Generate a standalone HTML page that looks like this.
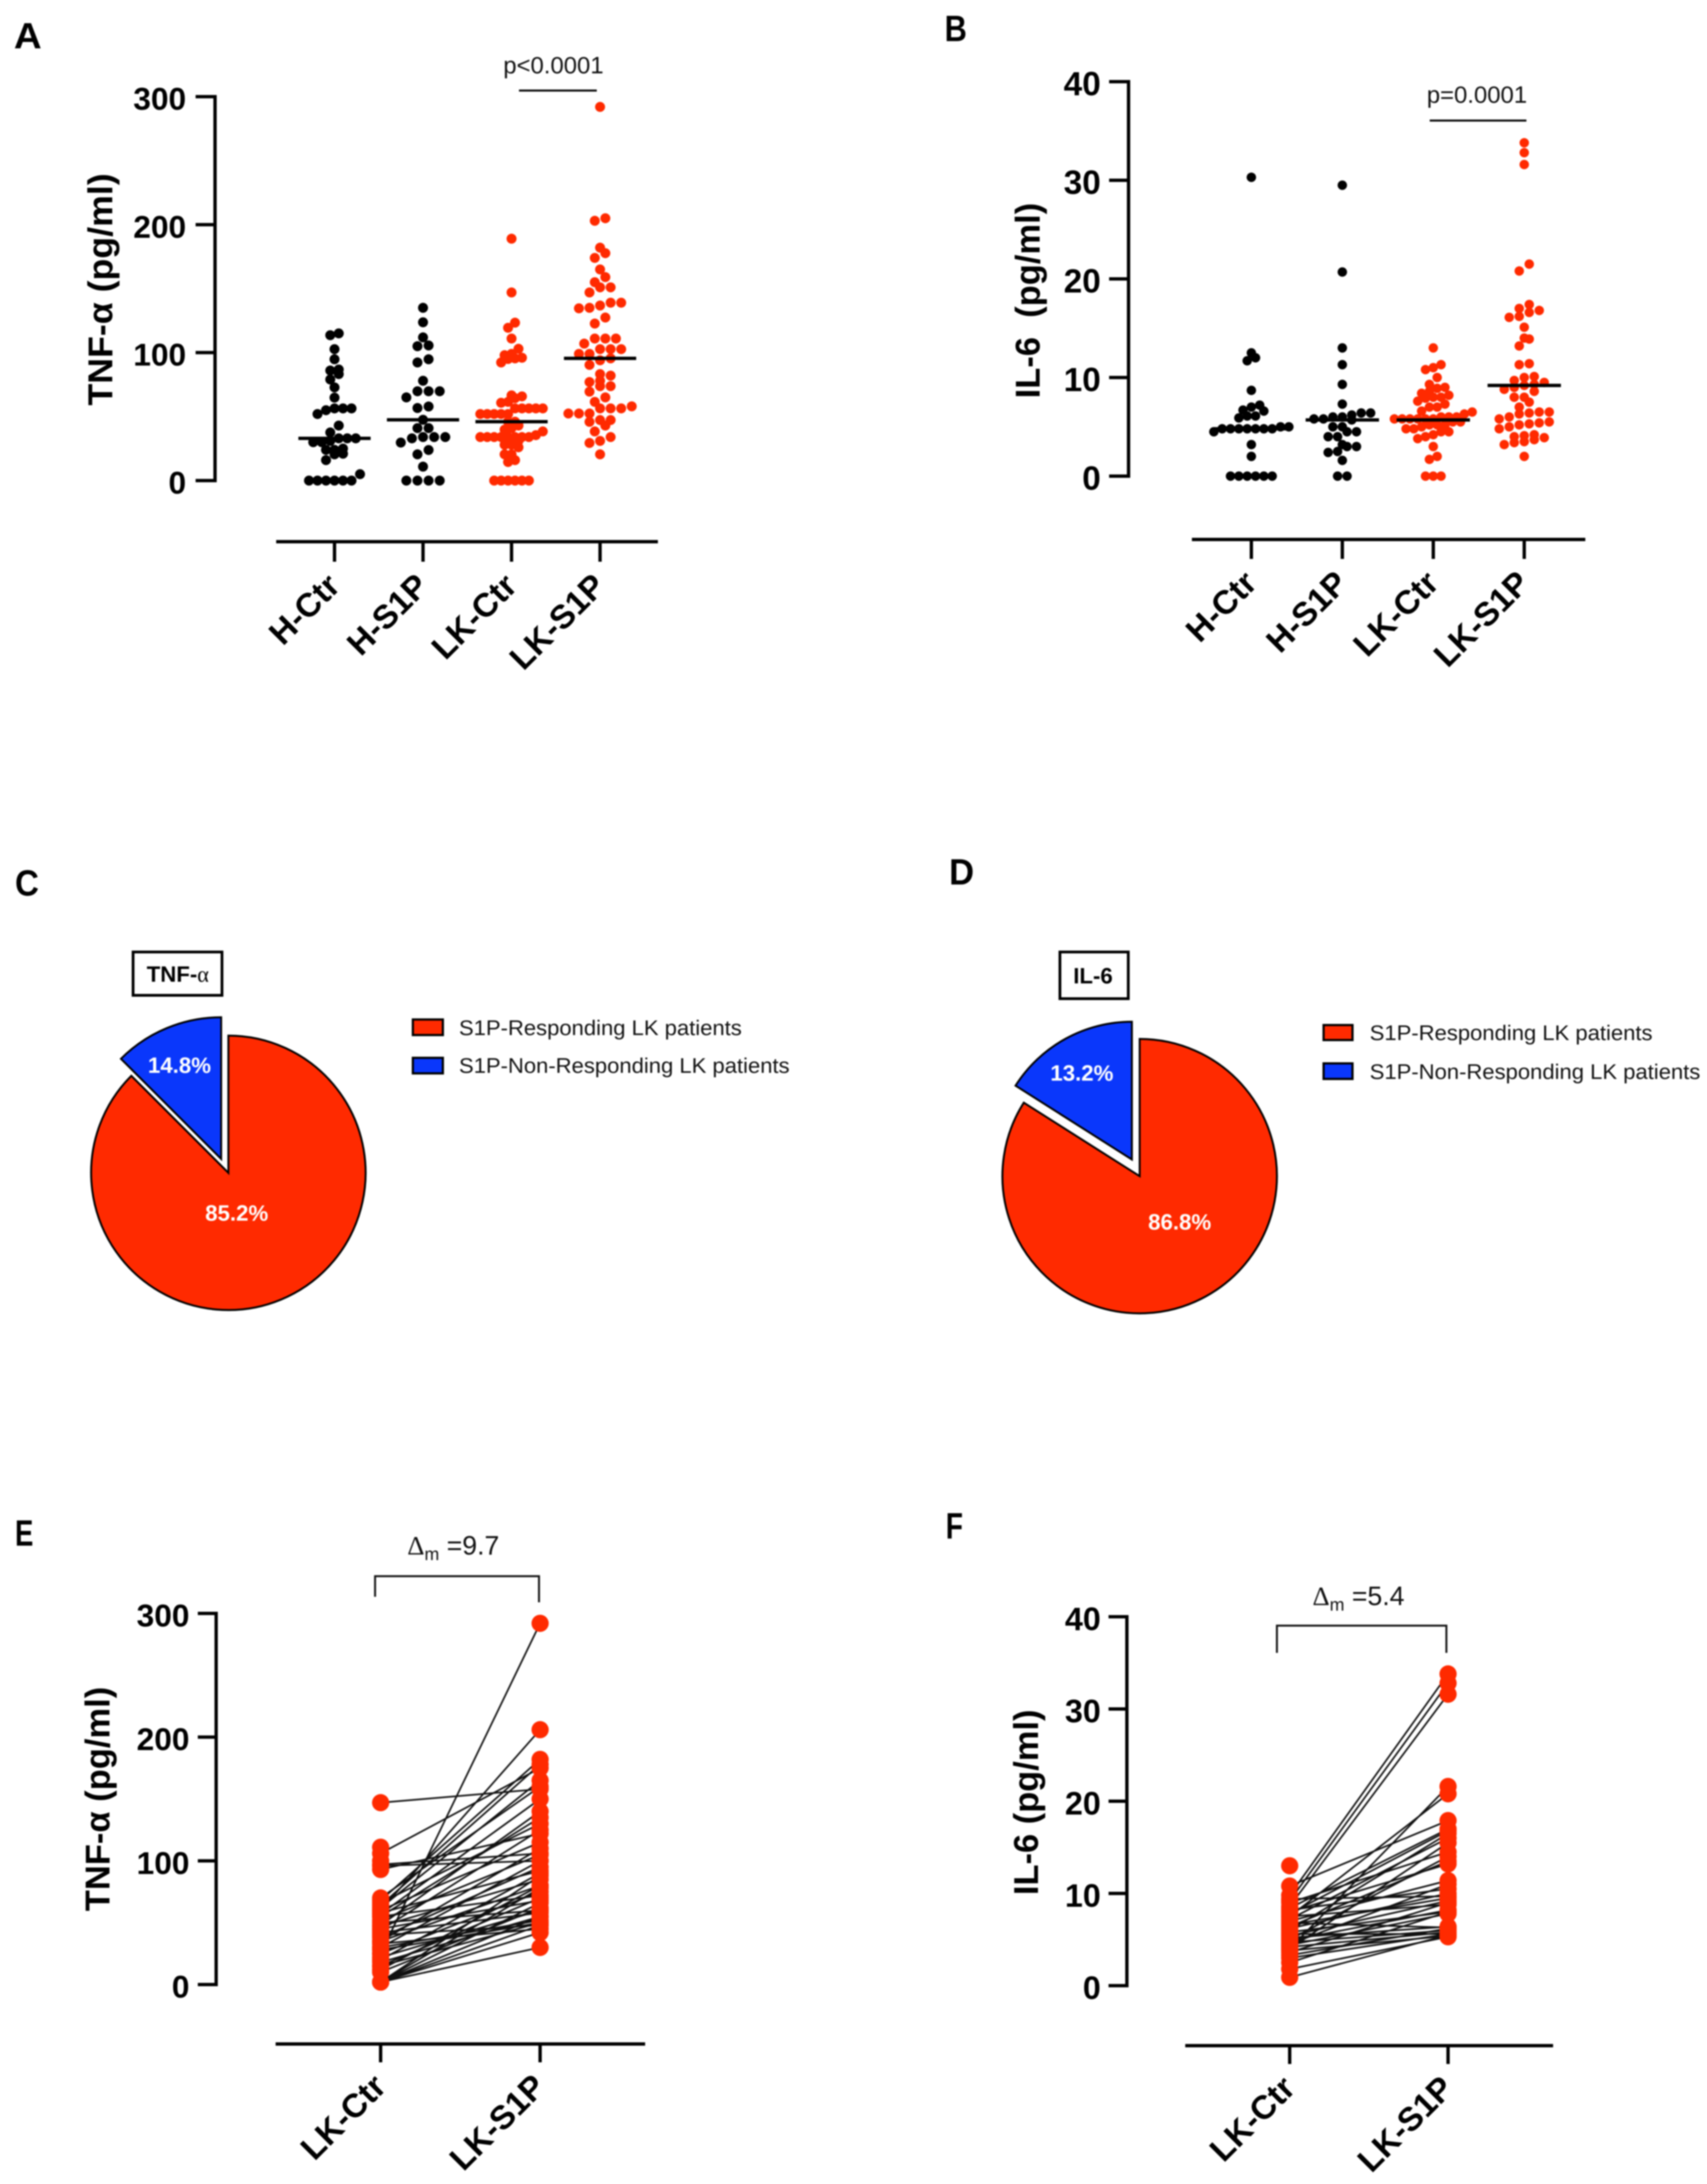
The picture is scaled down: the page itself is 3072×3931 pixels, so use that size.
<!DOCTYPE html>
<html lang="en">
<head>
<meta charset="utf-8">
<title>TNF-α and IL-6 response to S1P</title>
<style>
html,body{margin:0;padding:0;background:#fff;width:3072px;height:3931px;overflow:hidden}
svg{display:block;filter:blur(1.4px)}
text{font-family:"Liberation Sans",sans-serif;fill:#000}
.letter{font-size:66px;font-weight:bold}
.tick{font-size:58px;font-weight:bold;text-anchor:end}
.cat{font-size:60px;font-weight:bold;text-anchor:end}
.title{font-size:62px;font-weight:bold;text-anchor:middle}
.note{font-size:43px;text-anchor:middle;fill:#111}
.delta{font-size:48px;fill:#111}
.leg{font-size:38px;fill:#111}
.pct{font-size:40px;font-weight:bold;text-anchor:middle;fill:#fff}
.box{font-size:40px;font-weight:bold;text-anchor:middle}
</style>
</head>
<body>
<svg id="figure" xmlns="http://www.w3.org/2000/svg" width="3072" height="3931" viewBox="0 0 3072 3931">
<rect width="3072" height="3931" fill="#fff"/>

<text class="letter" x="25" y="87" textLength="50" lengthAdjust="spacingAndGlyphs">A</text>
<text class="letter" x="1700" y="74" textLength="40" lengthAdjust="spacingAndGlyphs">B</text>
<text class="letter" x="27" y="1612" textLength="43" lengthAdjust="spacingAndGlyphs">C</text>
<text class="letter" x="1708" y="1592" textLength="45" lengthAdjust="spacingAndGlyphs">D</text>
<text class="letter" x="27" y="2782" textLength="33" lengthAdjust="spacingAndGlyphs">E</text>
<text class="letter" x="1702" y="2769" textLength="31" lengthAdjust="spacingAndGlyphs">F</text>

<text class="title" transform="translate(202,521) rotate(-90)" textLength="418" lengthAdjust="spacingAndGlyphs">TNF-α (pg/ml)</text>
<text class="title" transform="translate(1871,541) rotate(-90)" textLength="352" lengthAdjust="spacingAndGlyphs" xml:space="preserve">IL-6  (pg/ml)</text>
<text class="title" transform="translate(197,3238) rotate(-90)" textLength="404" lengthAdjust="spacingAndGlyphs">TNF-α (pg/ml)</text>
<text class="title" transform="translate(1868,3244) rotate(-90)" textLength="334" lengthAdjust="spacingAndGlyphs">IL-6 (pg/ml)</text>

<text class="note" x="996" y="132">p&lt;0.0001</text>
<line x1="934" y1="163" x2="1074" y2="163" stroke="#000" stroke-width="3.5"/>
<text class="note" x="2658" y="185">p=0.0001</text>
<line x1="2573" y1="217" x2="2747" y2="217" stroke="#000" stroke-width="3.5"/>

<rect x="239.5" y="1713.5" width="160" height="78" fill="#fff" stroke="#000" stroke-width="5"/>
<text class="box" x="320" y="1767">TNF-<tspan font-family="Liberation Serif" font-weight="normal">α</tspan></text>
<rect x="1907.5" y="1713.5" width="123" height="84" fill="#fff" stroke="#000" stroke-width="5"/>
<text class="box" x="1967" y="1770">IL-6</text>

<rect x="743" y="1835" width="54" height="28" fill="#ff2a00" stroke="#000" stroke-width="4"/>
<text class="leg" x="826" y="1863" textLength="509" lengthAdjust="spacingAndGlyphs">S1P-Responding LK patients</text>
<rect x="743" y="1904" width="54" height="28" fill="#0a37fb" stroke="#000" stroke-width="4"/>
<text class="leg" x="826" y="1931" textLength="595" lengthAdjust="spacingAndGlyphs">S1P-Non-Responding LK patients</text>
<rect x="2382" y="1845" width="52" height="27" fill="#ff2a00" stroke="#000" stroke-width="4"/>
<text class="leg" x="2465" y="1872" textLength="509" lengthAdjust="spacingAndGlyphs">S1P-Responding LK patients</text>
<rect x="2382" y="1914" width="52" height="28" fill="#0a37fb" stroke="#000" stroke-width="4"/>
<text class="leg" x="2465" y="1942" textLength="595" lengthAdjust="spacingAndGlyphs">S1P-Non-Responding LK patients</text>

<path d="M675 2874V2837H970V2884" fill="none" stroke="#111" stroke-width="3.5"/>
<text class="delta" x="733" y="2798"><tspan font-family="Liberation Serif">Δ</tspan><tspan font-size="32" dy="10">m</tspan><tspan dy="-10"> =9.7</tspan></text>
<path d="M2298 2975V2926H2603V2975" fill="none" stroke="#111" stroke-width="3.5"/>
<text class="delta" x="2362" y="2889"><tspan font-family="Liberation Serif">Δ</tspan><tspan font-size="32" dy="10">m</tspan><tspan dy="-10"> =5.4</tspan></text>

<g id="panel-a"></g>
<g id="panel-b"></g>
<g id="panel-c"></g>
<g id="panel-d"></g>
<g id="panel-e"></g>
<g id="panel-f"></g>
</svg>

<script>
const groupCategories = ['H-Ctr', 'H-S1P', 'LK-Ctr', 'LK-S1P'];
const pairCategories = ['LK-Ctr', 'LK-S1P'];
const tnfTicks = [0, 100, 200, 300];
const il6Ticks = [0, 10, 20, 30, 40];

const tnfHCtr = [115,113.6,102.7,94.8,86.8,86,83.2,79,72.8,64.8,56.4,56.4,56.4,55,52,43,37.6,33,33,33,31,30,30,25,24,24,21,20.5,16,5,0,0,0,0,0,0];
const tnfHS1P = [135,123.7,111.9,105.6,105,94.8,92.3,78,69.8,69.8,69.8,65,57.9,56.7,47.5,41,41,34,34,34,33,29.7,23.9,20.5,10.9,0,0,0,0];
const tnfLKCtr = [189,147,123.4,119.4,111,103,99,98,96,95.5,95,92.3,66.6,65.8,64.4,61.5,60.8,56.4,56.4,56.4,56.4,56.4,52,52,52,52,52,46,46,43,41,39.8,38.4,35.5,34,34,34,34,34,34,34,34,31,28,28,26,20.5,20.5,16,14.5,0,0,0,0,0,0];
const tnfLKS1P = [292,205,203,182,177.7,174,165,159,155,151,151,147,139,139,136.8,135,134.6,127.4,122.7,111,111,111,107,102.7,102.7,102.7,99,99,95.5,94,90.4,83.2,82,78,77,73.8,73.8,69.5,65,61.5,58,56.4,56.4,56.4,52.4,52.4,52.4,47.3,47.3,45.9,43,38.4,34,31,29.4,20.5];
const tnfMeans = [33, 47.5, 46, 95.5];

const il6HCtr = [30.3,12.5,12,11.7,8.7,7.2,7,6.7,6.6,6.1,6.1,5.9,5,5,4.8,4.8,4.8,4.8,4.8,4.8,4.8,4.5,3.2,2,0,0,0,0,0,0];
const il6HS1P = [29.5,20.7,13,11.3,9.3,7.3,6.4,6.4,6.2,6,6,5.8,5.8,5.7,5,5,4.5,4.5,4,4,3.2,3,3,2.5,2.4,1.6,0,0];
const il6LKCtr = [13,11.3,11,10.8,10,9.3,9,8.9,8.6,8.4,8.2,8,8,7.9,7.6,7.3,7,7,6.6,6.5,6.3,6,6,6,5.8,5.8,5.8,5.8,5.8,5.8,5.5,5.5,5.2,5.2,5.2,5,4.8,4.8,4.5,4.5,4.2,4,3.8,3,2,1.7,0,0,0];
const il6LKS1P = [33.8,32.8,31.6,21.5,20.8,17.4,17,16.8,16.6,16.2,16.1,15.1,14,13.9,13.2,11.4,11.3,10.1,10,9.7,9.5,9.3,9.2,9,8.8,8.6,8,8,7.5,7,6.5,6.5,6.4,6.3,6,5.8,5.5,5.4,5.3,5.2,5,4.8,4.2,4.1,4,3.9,3.7,3.5,3.4,3.2,2];
const il6Means = [4.8, 5.7, 5.7, 9.2];

// Slice shares follow the angles actually drawn in the source figure; printed labels are separate.
const pieCategories = ['S1P-Responding', 'S1P-Non-Responding'];
const tnfPieShares = [87.5, 12.5];
const tnfPieLabels = ['85.2%', '14.8%'];
const il6PieShares = [84, 16];
const il6PieLabels = ['86.8%', '13.2%'];

const tnfPairCtr = [147,106,97,96,93,25,60,2,2,2,2,2,2,2,10,12,15,15,18,20,22,25,28,30,30,33,35,35,38,40,42,44,45,47,48,50,52,55,55,57,58,60,62,64,66,68,70,111,100];
const tnfPairS1P = [158,175,106,100,122,292,206,30,42,48,55,66,78,88,62,80,50,70,55,90,60,75,50,100,52,45,80,110,95,48,58,125,68,85,140,60,105,135,72,150,92,115,165,178,130,182,160,null,null];
const il6PairCtr = [9.8,9.2,8.6,4,7.5,0.9,1.8,2.5,3,3.3,3.6,3.8,4,4.2,4.4,4.5,4.7,4.9,5,5.2,5.4,5.6,5.8,6,6.2,6.4,6.6,6.8,7,7.2,7.5,7.8,8,8.2,8.4,9,9.4,10.8,13];
const il6PairS1P = [33.8,32.8,31.6,21.6,20.8,5.5,5.3,8,5.6,6.2,9,5.4,15.5,5.8,7.8,11,6,8.2,14,6.4,9.2,5.6,8,16.5,10,13.5,9.5,6.3,11.4,16,8.8,16.8,13.2,10.5,17,14.5,9.7,17.9,null];

const NS = 'http://www.w3.org/2000/svg';
const RED = '#ff2a00';
const BLUE = '#0a37fb';
const AXIS_W = 6;

function mk(tag, attrs, parent) {
  const el = document.createElementNS(NS, tag);
  for (const k in attrs) el.setAttribute(k, attrs[k]);
  parent.appendChild(el);
  return el;
}

function linearScale(domainMax, pxZero, pxMax) {
  return v => pxZero + (v / domainMax) * (pxMax - pxZero);
}

function drawYAxis(g, yScale, ticks, axisX, tickLeft, labelRight, fontSize) {
  const top = yScale(ticks[ticks.length - 1]);
  const bottom = yScale(ticks[0]);
  const spine = mk('line', {x1: axisX, x2: axisX, y1: top - 3, y2: bottom + 3, stroke: '#000', 'stroke-width': AXIS_W}, g);
  
  
  ticks.forEach(t => {
    const y = yScale(t);
    const mark = mk('line', {x1: tickLeft, x2: axisX, y1: y, y2: y, stroke: '#000', 'stroke-width': AXIS_W}, g);
    
    
    const label = mk('text', {x: labelRight, y: y + fontSize * 0.36 + 3, class: 'tick', style: 'font-size:' + fontSize + 'px'}, g);
    label.textContent = t;
    
    
  });
}

function drawXAxis(g, categories, xScale, axisY, left, right, tickBottom) {
  const base = mk('line', {x1: left, x2: right, y1: axisY, y2: axisY, stroke: '#000', 'stroke-width': AXIS_W}, g);
  
  
  categories.forEach((c, i) => {
    const x = xScale(i);
    const mark = mk('line', {x1: x, x2: x, y1: axisY, y2: tickBottom, stroke: '#000', 'stroke-width': AXIS_W}, g);
    
    
    const label = mk('text', {class: 'cat', transform: 'translate(' + (x + 13) + ',' + (tickBottom + 47) + ') rotate(-45)'}, g);
    label.textContent = c;
    
    
  });
}

// Prism-style swarm: values falling in one horizontal band spread symmetrically around the centre.
function swarmOffsets(pixelYs, step, bandHeight) {
  const order = pixelYs.map((y, i) => [y, i]).sort((a, b) => b[0] - a[0]);
  const offsets = new Array(pixelYs.length).fill(0);
  let k = 0;
  while (k < order.length) {
    let end = k;
    while (end + 1 < order.length && order[k][0] - order[end + 1][0] < bandHeight) end++;
    const n = end - k + 1;
    for (let j = 0; j < n; j++) {
      offsets[order[k + j][1]] = (j - (n - 1) / 2) * step;
    }
    k = end + 1;
  }
  return offsets;
}

function drawSwarm(g, values, mean, cx, yScale, colour, r, step, halfMean) {
  const ys = values.map(yScale);
  const offs = swarmOffsets(ys, step, 13);
  values.forEach((v, i) => {
    const dot = mk('circle', {cx: cx + offs[i], cy: ys[i], r: r, fill: colour}, g);
    
    
  });
  const bar = mk('line', {x1: cx - halfMean, x2: cx + halfMean, y1: yScale(mean), y2: yScale(mean), stroke: '#000', 'stroke-width': AXIS_W}, g);
  
  
}

function piePath(ax, ay, r, from, to) {
  const p = a => [ax + r * Math.sin(a), ay - r * Math.cos(a)];
  const s = p(from), e = p(to);
  const large = to - from > Math.PI ? 1 : 0;
  return 'M' + ax + ' ' + ay + 'L' + s[0] + ' ' + s[1] + 'A' + r + ' ' + r + ' 0 ' + large + ' 1 ' + e[0] + ' ' + e[1] + 'Z';
}

function drawPie(g, shares, labels, redApex, redR, blueApex, blueR, redLabelPos, blueLabelPos) {
  const total = shares[0] + shares[1];
  const split = (shares[0] / total) * 2 * Math.PI;
  const red = mk('path', {d: piePath(redApex[0], redApex[1], redR, 0, split), fill: RED, stroke: '#000', 'stroke-width': 3.5}, g);
  
  
  const blue = mk('path', {d: piePath(blueApex[0], blueApex[1], blueR, split, 2 * Math.PI), fill: BLUE, stroke: '#000', 'stroke-width': 3.5}, g);
  
  
  const t1 = mk('text', {class: 'pct', x: redLabelPos[0], y: redLabelPos[1]}, g);
  t1.textContent = labels[0];
  
  
  const t2 = mk('text', {class: 'pct', x: blueLabelPos[0], y: blueLabelPos[1]}, g);
  t2.textContent = labels[1];
  
  
}

function drawPaired(g, before, after, xScale, yScale, r) {
  before.forEach((v, i) => {
    if (after[i] === null) return;
    const link = mk('line', {x1: xScale(0), y1: yScale(v), x2: xScale(1), y2: yScale(after[i]), stroke: '#111', 'stroke-width': 3}, g);
    
    
  });
  [before, after].forEach((series, s) => {
    series.forEach(v => {
      if (v === null) return;
      const dot = mk('circle', {cx: xScale(s), cy: yScale(v), r: r, fill: RED}, g);
      
      
    });
  });
}

/* Panel A */
(function () {
  const g = document.getElementById('panel-a');
  const y = linearScale(300, 865, 174);
  const x = i => 602 + i * 159.3;
  const stepFor = i => (i === 0 ? 15.3 : i === 1 ? 20 : i === 2 ? 12.5 : 19);
  drawYAxis(g, y, tnfTicks, 387, 352, 335, 57);
  drawXAxis(g, groupCategories, x, 975, 497, 1184, 1011);
  [tnfHCtr, tnfHS1P, tnfLKCtr, tnfLKS1P].forEach((vals, i) => {
    drawSwarm(g, vals, tnfMeans[i], x(i), y, i < 2 ? '#000' : RED, 9, stepFor(i), 65);
  });
})();

/* Panel B */
(function () {
  const g = document.getElementById('panel-b');
  const y = linearScale(40, 857, 147);
  const x = i => 2252 + i * 163.7;
  const stepFor = i => (i === 0 ? 15 : i === 1 ? 17 : i === 2 ? 14 : 18);
  drawYAxis(g, y, il6Ticks, 2031, 1996, 1981, 60);
  drawXAxis(g, groupCategories, x, 971, 2145, 2853, 1006);
  [il6HCtr, il6HS1P, il6LKCtr, il6LKS1P].forEach((vals, i) => {
    drawSwarm(g, vals, il6Means[i], x(i), y, i < 2 ? '#000' : RED, 8.5, stepFor(i), 66);
  });
})();

/* Panels C and D */
drawPie(document.getElementById('panel-c'), tnfPieShares, tnfPieLabels, [411, 2111], 247, [398, 2086], 255, [426, 2197], [323, 1931]);
drawPie(document.getElementById('panel-d'), il6PieShares, il6PieLabels, [2051, 2117], 247, [2037, 2087], 248, [2123, 2213], [1947, 1945]);

/* Panel E */
(function () {
  const g = document.getElementById('panel-e');
  const y = linearScale(300, 3572, 2904);
  const x = i => 685 + i * 287;
  drawPaired(g, tnfPairCtr, tnfPairS1P, x, y, 15.5);
  drawYAxis(g, y, tnfTicks, 389, 356, 341, 57);
  drawXAxis(g, pairCategories, x, 3679, 496, 1161, 3712);
})();

/* Panel F */
(function () {
  const g = document.getElementById('panel-f');
  const y = linearScale(40, 3574, 2910);
  const x = i => 2321 + i * 285;
  drawPaired(g, il6PairCtr, il6PairS1P, x, y, 15.5);
  drawYAxis(g, y, il6Ticks, 2028, 1995, 1981, 58);
  drawXAxis(g, pairCategories, x, 3682, 2133, 2795, 3715);
})();
</script>
</body>
</html>
